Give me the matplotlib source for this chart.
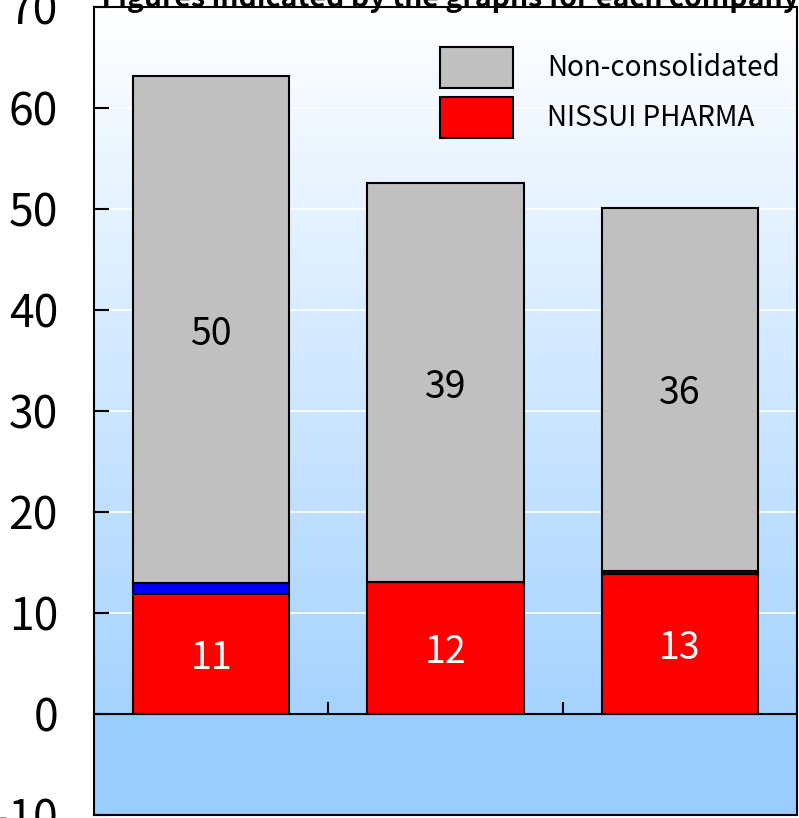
import numpy as np
import matplotlib
matplotlib.use("Agg")
import matplotlib.pyplot as plt
from matplotlib.patches import Patch
from matplotlib.colors import LinearSegmentedColormap

# ---- data ----
categories = ["A", "B", "C"]
nissui_pharma = [11.9, 13.0, 13.85]
other_blue = [1.05, 0.0, 0.0]
other_dark = [0.0, 0.0, 0.28]
non_consolidated = [50.15, 39.5, 35.97]
pharma_labels = ["11", "12", "13"]
noncons_labels = ["50", "39", "36"]
yticks = [-10, 0, 10, 20, 30, 40, 50, 60, 70]
ytick_labels = ["-10", "0", "10", "20", "30", "40", "50", "60", "70"]
legend_labels = ["Non-consolidated", "NISSUI PHARMA"]
note_text = "・Figures indicated by the graphs for each company"

FONT = ["Noto Sans CJK JP", "DejaVu Sans"]
plt.rcParams["font.family"] = FONT

W, H = 799, 818
fig = plt.figure(figsize=(W / 100, H / 100), dpi=100)
ax = fig.add_axes([94 / W, (H - 814.7) / H, (797 - 94) / W, (814.7 - 6.7) / H])

x = np.arange(len(categories))
ax.set_xlim(-0.5, 2.5)
ax.set_ylim(-10, 70)

# background gradient
cmap = LinearSegmentedColormap.from_list("bg", ["#99CCFF", "#FFFFFF"])
grad = np.linspace(0, 1, 256).reshape(-1, 1)
ax.imshow(grad, cmap=cmap, origin="lower", aspect="auto",
          extent=[-0.5, 2.5, -10, 70], zorder=0)
ax.axhspan(-10, 0, color="#99CCFF", zorder=0.5, lw=0)

# white grid lines
for t in yticks:
    if 0 < t < 70:
        ax.axhline(t, color="white", lw=1.2, zorder=1)

width = 0.668
b1 = np.array(nissui_pharma)
b2 = b1 + np.array(other_blue)
b3 = b2 + np.array(other_dark)
ax.bar(x, nissui_pharma, width, color="#FF0000", edgecolor="black", lw=1.5, zorder=3)
ax.bar(x, other_blue, width, bottom=b1, color="#0000FF", edgecolor="black", lw=1.5, zorder=3)
ax.bar(x, other_dark, width, bottom=b2, color="#101010", edgecolor="black", lw=1.5, zorder=3)
ax.bar(x, non_consolidated, width, bottom=b3, color="#C0C0C0", edgecolor="black", lw=1.5, zorder=3)

for i in range(len(x)):
    ax.text(x[i], nissui_pharma[i] / 2, pharma_labels[i], ha="center", va="center_baseline",
            color="white", fontsize=27, zorder=5)
    ax.text(x[i], b3[i] + non_consolidated[i] / 2, noncons_labels[i], ha="center",
            va="center_baseline", color="black", fontsize=27, zorder=5)

# zero line and category separators
ax.axhline(0, color="black", lw=1.5, zorder=4)
ax.vlines([0.5, 1.5], 0, 1.2, color="black", lw=1.5, zorder=4)

ax.set_xticks([])
ax.set_yticks(yticks)
ax.set_yticklabels(ytick_labels, fontsize=32)
for lab in ax.get_yticklabels():
    lab.set_verticalalignment("center_baseline")
ax.tick_params(axis="y", direction="in", length=11, width=1.5, pad=26)
for s in ax.spines.values():
    s.set_linewidth(1.5)
    s.set_zorder(6)

handles = [Patch(facecolor="#C0C0C0", edgecolor="black", lw=1.5),
           Patch(facecolor="#FF0000", edgecolor="black", lw=1.5)]
fig.legend(handles, legend_labels, loc="upper left",
           bbox_to_anchor=(440 / W, 1 - 47 / H), frameon=False, fontsize=20,
           handlelength=2.63, handleheight=1.894, labelspacing=0.324,
           handletextpad=1.22, borderpad=0, borderaxespad=0)

fig.text(73 / W, 1 - 7 / H, note_text, fontsize=20.5, fontweight="bold",
         va="baseline", ha="left")

fig.savefig("out.png", dpi=100)
